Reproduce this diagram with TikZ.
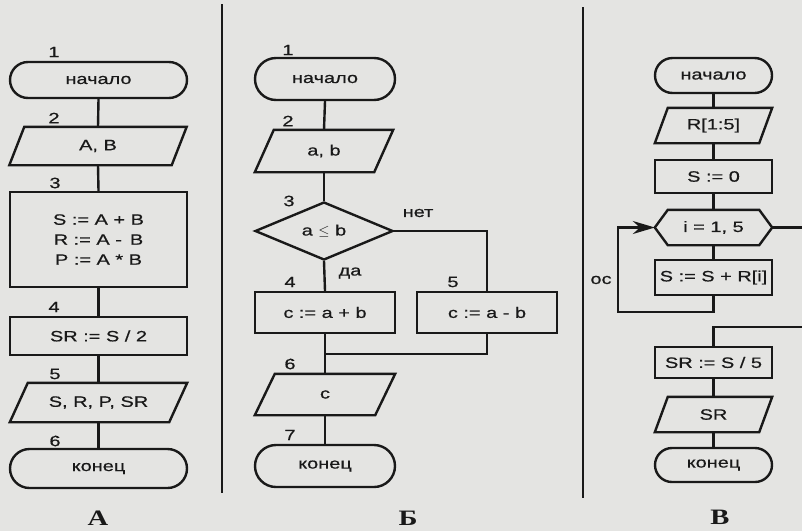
\documentclass[tikz,border=0pt]{standalone}
\usepackage{fontspec}
\setmainfont{Liberation Sans}[FakeStretch=1.33,FakeBold=0.6]
\newfontfamily\lblfont{Liberation Serif}[FakeStretch=1.3]
\usetikzlibrary{shapes.geometric,shapes.misc,arrows.meta}
\definecolor{ink}{RGB}{25,25,25}
\definecolor{paper}{RGB}{228,228,226}
\newcommand\paral[2]{\draw[ln] ([xshift=#2]#1.north west) -- (#1.north east) -- ([xshift=-#2]#1.south east) -- (#1.south west) -- cycle;}
\newcommand\hexa[2]{\draw[ln] ([xshift=#2]#1.north west) -- ([xshift=-#2]#1.north east) -- (#1.east) -- ([xshift=-#2]#1.south east) -- ([xshift=#2]#1.south west) -- (#1.west) -- cycle;}
\begin{document}
\begin{tikzpicture}[x=1pt,y=-1pt,
  every node/.style={text=ink, font=\fontsize{15}{17}\selectfont},
  ln/.style={draw=ink, line width=2.4pt},
  term/.style={rounded rectangle, draw=ink, line width=2.4pt, inner sep=0pt},
  proc/.style={rectangle, draw=ink, line width=2.4pt, inner sep=0pt},
  io/.style={rectangle, inner sep=0pt},
  hex/.style={rectangle, inner sep=0pt},
  cond/.style={diamond, draw=ink, line width=2.4pt, inner sep=0pt},
  num/.style={inner sep=0pt},
  title/.style={inner sep=0pt, font=\lblfont\bfseries\fontsize{22}{24}\selectfont},
  sep/.style={draw=ink, line width=1.4pt}
]
\fill[paper] (0,0) rectangle (802,531);
\useasboundingbox (0,0) rectangle (802,531);

% separators
\coordinate (s1a) at (222,4); \coordinate (s1b) at (222,493);
\coordinate (s2a) at (583,7); \coordinate (s2b) at (583,498);
\draw[sep] (s1a) -- (s1b);
\draw[sep] (s2a) -- (s2b);

% ---------------- Chart A ----------------
\node[term, minimum width=177pt, minimum height=36pt] (tA1) at (98.5,80) {начало};
\node[io, minimum width=177pt, minimum height=38pt] (pA2) at (98,146) {A, B};
\paral{pA2}{15pt}
\node[proc, minimum width=177pt, minimum height=95pt, align=center, font=\fontsize{15}{20}\selectfont] (bA3) at (98.5,239.5) {S := A + B\\R := A - \,B\\P := A * B};
\node[proc, minimum width=177pt, minimum height=38pt] (bA4) at (98.5,336) {SR := S / 2};
\node[io, minimum width=177pt, minimum height=39pt] (pA5) at (98.5,402.5) {S, R, P, SR};
\paral{pA5}{18pt}
\node[term, minimum width=177pt, minimum height=39pt] (tA6) at (98.5,468.5) {конец};
\draw[ln] (tA1.south) -- (pA2.north);
\draw[ln] (pA2.south) -- (bA3.north);
\draw[ln] (bA3.south) -- (bA4.north);
\draw[ln] (bA4.south) -- (pA5.north);
\draw[ln] (pA5.south) -- (tA6.north);
\node[num] (nA1) at (54,52) {1};
\node[num] (nA2) at (54,118) {2};
\node[num] (nA3) at (55,183) {3};
\node[num] (nA4) at (54,307) {4};
\node[num] (nA5) at (55,374) {5};
\node[num] (nA6) at (55,441) {6};
\node[title] (lA) at (98,518) {А};

% ---------------- Chart B ----------------
\node[term, minimum width=140pt, minimum height=42pt] (tB1) at (325,79) {начало};
\node[io, minimum width=138pt, minimum height=42pt] (pB2) at (324,151) {a, b};
\paral{pB2}{19pt}
\node[cond, minimum width=138pt, minimum height=58pt] (dB3) at (324,231) {a $\leq$ b};
\node[proc, minimum width=140pt, minimum height=41pt] (bB4) at (325,312.5) {c := a + b};
\node[proc, minimum width=140pt, minimum height=41pt] (bB5) at (487,312.5) {c := a - b};
\coordinate (mB) at (325,354);
\node[io, minimum width=140pt, minimum height=41pt] (pB6) at (325,394.5) {c};
\paral{pB6}{20pt}
\node[term, minimum width=140pt, minimum height=42pt] (tB7) at (325,466) {конец};
\draw[ln] (tB1.south) -- (pB2.north);
\draw[ln] (pB2.south) -- (dB3.north);
\draw[ln] (dB3.south) -- (bB4.north);
\draw[ln] (dB3.east) -| (bB5.north);
\draw[ln] (bB4.south) -- (pB6.north);
\draw[ln] (bB5.south) |- (mB);
\draw[ln] (pB6.south) -- (tB7.north);
\node[num] (nB1) at (288,50) {1};
\node[num] (nB2) at (288,121) {2};
\node[num] (nB3) at (289,201) {3};
\node[num] (yesB) at (350,273) {да};
\node[num] (noB) at (418,213) {нет};
\node[num] (nB4) at (290,282) {4};
\node[num] (nB5) at (453,282) {5};
\node[num] (nB6) at (290,364) {6};
\node[num] (nB7) at (290,435) {7};
\node[title] (lB) at (408,518) {Б};

% ---------------- Chart V ----------------
\node[term, minimum width=117pt, minimum height=35pt] (tV1) at (713.5,75.5) {начало};
\node[io, minimum width=117pt, minimum height=35pt] (pV2) at (713.5,125.5) {R[1:5]};
\paral{pV2}{13pt}
\node[proc, minimum width=117pt, minimum height=33pt] (bV3) at (713.5,176.5) {S := 0};
\node[hex, minimum width=117pt, minimum height=35pt] (hV4) at (713.5,227.5) {i = 1, 5};
\hexa{hV4}{13pt}
\node[proc, minimum width=117pt, minimum height=35pt] (bV5) at (713.5,277.5) {S := S + R[i]};
\node[proc, minimum width=117pt, minimum height=31pt] (bV6) at (713.5,362.5) {SR := S / 5};
\node[io, minimum width=117pt, minimum height=35pt] (pV7) at (713.5,414.5) {SR};
\paral{pV7}{13pt}
\node[term, minimum width=117pt, minimum height=34pt] (tV8) at (713.5,465) {конец};
\coordinate (vL) at (618,312);
\coordinate (vR1) at (802,227.5);
\coordinate (vR2) at (802,327);
\draw[ln] (tV1.south) -- (pV2.north);
\draw[ln] (pV2.south) -- (bV3.north);
\draw[ln] (bV3.south) -- (hV4.north);
\draw[ln] (hV4.south) -- (bV5.north);
\draw[ln, -{Stealth[length=22pt,width=13pt]}] (bV5.south) |- (vL) |- (hV4.west);
\draw[ln] (hV4.east) -- (vR1);
\draw[ln] (vR2) -| (bV6.north);
\draw[ln] (bV6.south) -- (pV7.north);
\draw[ln] (pV7.south) -- (tV8.north);
\node[num] (oc) at (601,280) {ос};
\node[title] (lV) at (720,517) {В};
\end{tikzpicture}
\end{document}
